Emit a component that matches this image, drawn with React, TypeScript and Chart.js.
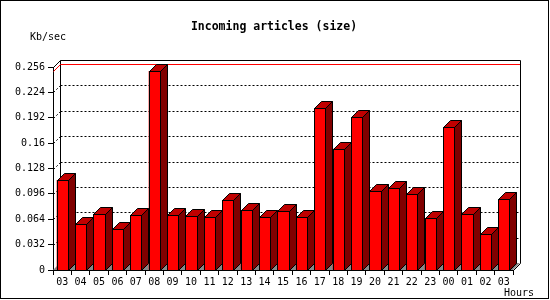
import React, { useEffect, useRef } from 'react';
import { Chart, registerables } from 'chart.js';

Chart.register(...registerables);

const hours = ['03', '04', '05', '06', '07', '08', '09', '10', '11', '12', '13', '14', '15', '16', '17', '18', '19', '20', '21', '22', '23', '00', '01', '02', '03'];
const kbPerSec = [0.1135, 0.058, 0.0706, 0.0517, 0.069, 0.251, 0.069, 0.0677, 0.0665, 0.0879, 0.0753, 0.0665, 0.074, 0.0665, 0.2043, 0.153, 0.1925, 0.0992, 0.103, 0.0958, 0.0652, 0.1803, 0.0702, 0.045, 0.0891];
const yTickLabels = ['0', '0.032', '0.064', '0.096', '0.128', '0.16', '0.192', '0.224', '0.256'];
const yMax = 0.256;
const yStep = 0.032;
const chartTitle = 'Incoming articles (size)';
const yUnit = 'Kb/sec';
const xUnit = 'Hours';

const D = 7;
const MONO = '"DejaVu Sans Mono", monospace';

const threeD = {
  id: 'threeD',
  beforeDatasetsDraw(chart: any) {
    const { ctx, chartArea: a, scales } = chart;
    const y = scales.y;
    const L = Math.round(a.left), R = Math.round(a.right), T = Math.round(a.top), B = Math.round(a.bottom);
    ctx.save();
    // floor
    ctx.fillStyle = '#888888';
    ctx.beginPath();
    ctx.moveTo(L, B); ctx.lineTo(R, B); ctx.lineTo(R + D, B - D); ctx.lineTo(L + D, B - D);
    ctx.closePath(); ctx.fill();
    // dotted grid on back wall
    ctx.strokeStyle = '#000'; ctx.lineWidth = 1; ctx.setLineDash([2, 2]);
    y.ticks.forEach((t: any) => {
      if (t.value <= 0 || t.value >= yMax - 1e-9) return;
      const fy = Math.round(y.getPixelForValue(t.value));
      ctx.beginPath();
      ctx.moveTo(L + D + 0.5, fy - D + 0.5); ctx.lineTo(R + D, fy - D + 0.5);
      ctx.stroke();
      ctx.beginPath();
      ctx.moveTo(L + 0.5, fy + 0.5); ctx.lineTo(L + D + 0.5, fy - D + 0.5);
      ctx.stroke();
    });
    ctx.setLineDash([]);
    // back frame
    ctx.beginPath();
    ctx.moveTo(L + 0.5, T + 0.5); ctx.lineTo(L + D + 0.5, T - D + 0.5);
    ctx.lineTo(R + D + 0.5, T - D + 0.5); ctx.lineTo(R + D + 0.5, B - D + 0.5);
    ctx.lineTo(R + 0.5, B + 0.5);
    ctx.moveTo(L + D + 0.5, T - D + 0.5); ctx.lineTo(L + D + 0.5, B - D + 0.5);
    ctx.stroke();
    // max line in red
    const mx = Math.max(...kbPerSec);
    const my = Math.round(y.getPixelForValue(mx));
    ctx.strokeStyle = '#ff0000';
    ctx.beginPath();
    ctx.moveTo(L + 0.5, my + 0.5); ctx.lineTo(L + D + 0.5, my - D + 0.5); ctx.lineTo(R + D, my - D + 0.5);
    ctx.stroke();
    ctx.restore();
  },
  afterDatasetsDraw(chart: any) {
    const { ctx } = chart;
    const meta = chart.getDatasetMeta(0);
    ctx.save();
    ctx.lineWidth = 1; ctx.strokeStyle = '#000';
    meta.data.forEach((bar: any) => {
      const p = bar.getProps(['x', 'y', 'base', 'width'], true);
      const l = Math.round(p.x - p.width / 2), r = Math.round(p.x + p.width / 2);
      const t = Math.round(p.y), b = Math.round(p.base);
      // side
      ctx.fillStyle = '#800000';
      ctx.beginPath();
      ctx.moveTo(r + 0.5, t + 0.5); ctx.lineTo(r + D + 0.5, t - D + 0.5); ctx.lineTo(r + D + 0.5, b - D + 0.5); ctx.lineTo(r + 0.5, b + 0.5);
      ctx.closePath(); ctx.fill(); ctx.stroke();
      // top
      ctx.fillStyle = '#c00000';
      ctx.beginPath();
      ctx.moveTo(l + 0.5, t + 0.5); ctx.lineTo(l + D + 0.5, t - D + 0.5); ctx.lineTo(r + D + 0.5, t - D + 0.5); ctx.lineTo(r + 0.5, t + 0.5);
      ctx.closePath(); ctx.fill(); ctx.stroke();
      // front
      ctx.fillStyle = '#ff0000';
      ctx.fillRect(l, t, r - l, b - t);
      ctx.strokeRect(l + 0.5, t + 0.5, r - l, b - t);
    });
    ctx.restore();
  },
  afterDraw(chart: any) {
    const { ctx } = chart;
    ctx.save();
    ctx.fillStyle = '#000';
    ctx.textBaseline = 'middle';
    ctx.font = 'bold 11.5px ' + MONO;
    ctx.textAlign = 'center';
    ctx.fillText(chartTitle, 274, 27);
    ctx.font = '10px ' + MONO;
    ctx.textAlign = 'left';
    ctx.fillText(yUnit, 30, 37);
    ctx.fillText(xUnit, 504, 293);
    ctx.strokeStyle = '#000'; ctx.lineWidth = 1;
    ctx.strokeRect(0.5, 0.5, 548, 298);
    ctx.restore();
  },
};

export default function App() {
  const ref = useRef<HTMLCanvasElement>(null);
  useEffect(() => {
    document.body.style.margin = '0';
    const chart = new Chart(ref.current as HTMLCanvasElement, {
      type: 'bar',
      data: {
        labels: hours,
        datasets: [{
          data: kbPerSec,
          backgroundColor: '#ff0000',
          borderWidth: 0,
          barPercentage: 0.6,
          categoryPercentage: 1,
        }],
      },
      options: {
        responsive: false,
        animation: false,
        devicePixelRatio: 1,
        layout: { padding: { left: 0, top: 67, right: 37, bottom: 0 } },
        plugins: { legend: { display: false }, tooltip: { enabled: false }, title: { display: false } },
        scales: {
          x: {
            grid: { display: true, drawOnChartArea: false, drawTicks: true, tickLength: 5, color: '#000', offset: true },
            border: { display: true, color: '#000' },
            ticks: { color: '#000', font: { family: MONO, size: 10 }, padding: 1, maxRotation: 0, autoSkip: false },
            afterFit: (s: any) => { s.height = 30; },
          },
          y: {
            min: 0,
            max: yMax,
            grid: { display: true, drawOnChartArea: false, drawTicks: true, tickLength: 5, color: '#000' },
            border: { display: true, color: '#000' },
            ticks: {
              stepSize: yStep,
              color: '#000',
              font: { family: MONO, size: 10 },
              padding: 3,
              callback: (_v: any, i: number) => yTickLabels[i],
            },
            afterFit: (s: any) => { s.width = 53; },
          },
        },
      },
      plugins: [threeD],
    });
    return () => chart.destroy();
  }, []);
  return (
    <div style={{ width: 550, height: 300 }}>
      <canvas ref={ref} width={550} height={300} style={{ display: 'block' }} />
    </div>
  );
}
